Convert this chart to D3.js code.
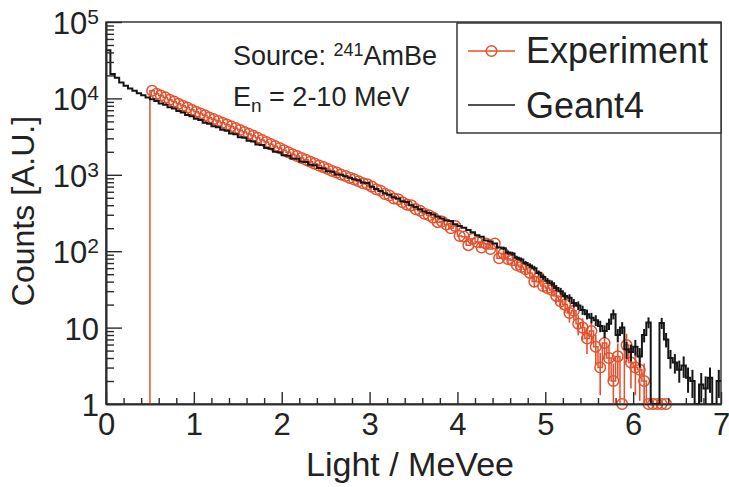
<!DOCTYPE html>
<html>
<head>
<meta charset="utf-8">
<script src="https://cdn.jsdelivr.net/npm/d3@7"></script>
<style>
  body { margin: 0; background: #fff; }
  svg { display: block; }
  text { font-family: "Liberation Sans", Arial, Helvetica, sans-serif; fill: #222; }
</style>
</head>
<body>
<svg id="chart" width="729" height="487"></svg>
<script>
// Light-output spectra, bins of 0.05 MeVee (counts per bin, arbitrary units)
const binWidth = 0.05;

// Geant4 simulation, bins starting at 0 MeVee
const geant4Start = 0;
const geant4Counts = [
  42700, 20900, 18600, 16200, 14600, 13500, 12600, 11700, 11000, 10300,
  9720, 9250, 8600, 8240, 7650, 7350, 6820, 6560, 6080, 5850,
  5420, 5230, 4810, 4650, 4320, 4180, 3880, 3760, 3480, 3390,
  3110, 3050, 2790, 2730, 2500, 2450, 2250, 2200, 2010, 1980,
  1800, 1780, 1640, 1620, 1490, 1470, 1350, 1330, 1230, 1210,
  1110, 1100, 1010, 1000, 960, 915, 875, 850, 790, 780,
  700, 650, 615, 575, 548, 510, 490, 452, 440, 400,
  380, 355, 332, 316, 302, 285, 268, 252, 248, 225,
  214, 202, 190, 177, 162, 155, 138, 134, 126, 112,
  109, 96, 93, 82, 78, 70, 65, 60, 52, 46,
  41, 38, 33, 30, 26, 24.5, 21, 19.5, 17, 15,
  13.5, 12.5, 10.5, 9, 11.2, 15, 8, 10, 5.2, 4.8,
  5.6, 4.2, 8, 11.7, 0, 0, 11.5, 7, 4, 3.5,
  2.8, 3.2, 2.2, 2, 0, 1.8, 1.6, 2.2, 0, 2
];
// statistical errors of the Geant4 tail, bins from 4.5 MeVee on
const geant4ErrStart = 4.5;
const geant4TailErr = [
  6, 5.5, 5.4, 5, 4.9, 4.6, 4.5, 4.3, 4, 3.8,
  3.6, 3.4, 3.2, 3.1, 2.9, 2.8, 2.6, 2.5, 2.3, 2.2,
  2.1, 2, 1.8, 1.7, 1.9, 2.2, 1.6, 1.8, 1.3, 1.2,
  1.3, 1.2, 1.6, 1.9, 0, 0, 1.9, 1.5, 1.1, 1.0,
  0.9, 1.0, 0.8, 0.8, 0, 0.75, 0.7, 0.8, 0, 0.8
];

// Measured 241AmBe spectrum above the 0.5 MeVee threshold
const experimentStart = 0.5;
const experimentCounts = [
  12600, 11500, 10900, 10300, 9600, 9100, 8500, 8000, 7600, 7100,
  6700, 6350, 6000, 5600, 5350, 5050, 4800, 4550, 4300, 4080,
  3850, 3640, 3430, 3240, 3060, 2850, 2690, 2520, 2370, 2240,
  2090, 1970, 1860, 1760, 1660, 1570, 1480, 1400, 1320, 1260,
  1190, 1120, 1070, 1010, 966, 912, 871, 822, 776, 750,
  700, 646, 617, 562, 537, 490, 479, 437, 407, 398,
  355, 339, 309, 295, 275, 240, 245, 224, 200, 214,
  158, 155, 120, 145, 132, 112, 126, 107, 126, 81,
  93, 79, 76, 66, 62, 58, 52, 40, 46, 35,
  33, 31, 26, 22, 20, 15.5, 16.6, 11.2, 10, 7.2,
  9, 5.6, 3, 6.3, 4, 2, 4.2, 0, 5.9, 3.5,
  3, 2.8, 2, 0, 0, 0, 0, 0
];
// statistical errors of the measured tail, bins from 4.5 MeVee on
const experimentErrStart = 4.5;
const experimentTailErr = [
  9.6, 8.9, 8.7, 8.1, 7.9, 7.6, 7.2, 6.3, 6.8, 5.9,
  5.7, 5.6, 5.1, 4.7, 4.5, 3.9, 4.1, 3.3, 3.2, 2.7,
  3.0, 2.4, 1.7, 2.5, 2.0, 1.4, 2.0, 0, 2.4, 1.9,
  1.7, 1.7, 1.4, 0, 0, 0, 0, 0
];

const xTicks = [0, 1, 2, 3, 4, 5, 6, 7];
const xMinorTicks = d3.range(1, 35).map(i => i / 5).filter(v => !Number.isInteger(v));
const yTicks = [1, 10, 100, 1000, 10000, 100000];
const yTickLabels = [["1", ""], ["10", ""], ["10", "2"], ["10", "3"], ["10", "4"], ["10", "5"]];
const yMinorTicks = [];
for (let e = 0; e < 5; e++) for (let d = 2; d <= 9; d++) yMinorTicks.push(d * Math.pow(10, e));

const seriesNames = ["Experiment", "Geant4"];
const sourceLabel = ["Source: ", "241", "AmBe"];
const energyLabel = ["E", "n", " = 2-10 MeV"];
const xTitle = "Light / MeVee";
const yTitle = "Counts [A.U.]";

const RED = "#e2522e";
const BLACK = "#161616";
const AXIS = "#2a2a2a";

const plot = { left: 106, right: 721, top: 22, bottom: 404 };
const svg = d3.select("#chart");

const x = d3.scaleLinear().domain([0, 7]).range([plot.left, plot.right]);
const y = d3.scaleLog().domain([1, 1e5]).range([plot.bottom, plot.top]);
const yFloor = v => (v > 1 ? y(v) : y(1));

function toBins(start, counts, errStart, errs) {
  const off = Math.round((errStart - start) / binWidth);
  return counts.map((v, i) => {
    const lo = +(start + i * binWidth).toFixed(4);
    return { lo, hi: +(lo + binWidth).toFixed(4), c: +(lo + binWidth / 2).toFixed(4), v,
             err: i >= off ? (errs[i - off] || 0) : 0 };
  });
}
const geant4 = toBins(geant4Start, geant4Counts, geant4ErrStart, geant4TailErr);
const experiment = toBins(experimentStart, experimentCounts, experimentErrStart, experimentTailErr);

// step outline of a histogram, rising from the floor at its first edge
const stepLine = d3.line().curve(d3.curveStepAfter).x(d => x(d[0])).y(d => yFloor(d[1]));
function stepPoints(bins) {
  const pts = [[bins[0].lo, 0]];
  bins.forEach(b => pts.push([b.lo, b.v]));
  const last = bins[bins.length - 1];
  pts.push([last.hi, last.v]);
  return pts;
}

svg.append("defs").append("clipPath").attr("id", "plotClip")
  .append("rect").attr("x", plot.left).attr("y", plot.top)
  .attr("width", plot.right - plot.left).attr("height", plot.bottom - plot.top);

// frame
svg.append("rect")
  .attr("x", plot.left).attr("y", plot.top)
  .attr("width", plot.right - plot.left).attr("height", plot.bottom - plot.top)
  .attr("fill", "none").attr("stroke", AXIS).attr("stroke-width", 1.4);

// experiment: outline, error bars, open circles
const gExp = svg.append("g");
gExp.append("path").attr("d", stepLine(stepPoints(experiment)))
  .attr("fill", "none").attr("stroke", RED).attr("stroke-width", 1.5);
gExp.selectAll("line.err").data(experiment.filter(b => b.err > 0)).join("line")
  .attr("class", "err")
  .attr("x1", b => x(b.c)).attr("x2", b => x(b.c))
  .attr("y1", b => yFloor(b.v - b.err)).attr("y2", b => yFloor(b.v + b.err))
  .attr("stroke", RED).attr("stroke-width", 1.6);
gExp.selectAll("circle").data(experiment).join("circle")
  .attr("cx", b => x(b.c)).attr("cy", b => yFloor(b.v)).attr("r", 5.3)
  .attr("fill", "none").attr("stroke", RED).attr("stroke-width", 1.5);

// Geant4: outline with error bars
const gSim = svg.append("g").attr("clip-path", "url(#plotClip)");
gSim.append("path").attr("d", stepLine(stepPoints(geant4)))
  .attr("fill", "none").attr("stroke", BLACK).attr("stroke-width", 2);
gSim.selectAll("line").data(geant4.filter(b => b.err > 0)).join("line")
  .attr("x1", b => x(b.c)).attr("x2", b => x(b.c))
  .attr("y1", b => yFloor(b.v - b.err)).attr("y2", b => yFloor(b.v + b.err))
  .attr("stroke", BLACK).attr("stroke-width", 2);

// axes with inward ticks
function styleAxis(g) {
  g.selectAll("path.domain").attr("stroke", AXIS).attr("stroke-width", 1.6);
  g.selectAll(".tick line").attr("stroke", AXIS).attr("stroke-width", 1.4);
}
svg.append("g").attr("transform", `translate(0,${plot.bottom})`)
  .call(d3.axisBottom(x).tickValues(xMinorTicks).tickSize(-6).tickSizeOuter(0).tickFormat(""))
  .call(styleAxis);
const gx = svg.append("g").attr("transform", `translate(0,${plot.bottom})`)
  .call(d3.axisBottom(x).tickValues(xTicks).tickSize(-12).tickSizeOuter(0).tickPadding(9).tickFormat(d3.format("d")))
  .call(styleAxis);
gx.selectAll("text").attr("font-size", 31).attr("fill", "#222");

svg.append("g").attr("transform", `translate(${plot.left},0)`)
  .call(d3.axisLeft(y).tickValues(yMinorTicks).tickSize(-8).tickSizeOuter(0).tickFormat(""))
  .call(styleAxis);
svg.append("g").attr("transform", `translate(${plot.left},0)`)
  .call(d3.axisLeft(y).tickValues(yTicks).tickSize(-16).tickSizeOuter(0).tickFormat(""))
  .call(styleAxis);

const yl = svg.append("g").selectAll("text").data(yTicks).join("text")
  .attr("x", 99).attr("y", v => y(v) + 12)
  .attr("text-anchor", "end").attr("font-size", 31);
yl.each(function (v, i) {
  const t = d3.select(this);
  t.append("tspan").text(yTickLabels[i][0]);
  if (yTickLabels[i][1]) t.append("tspan").attr("dy", -10).attr("font-size", 21).text(yTickLabels[i][1]);
});

// axis titles
svg.append("text").attr("x", 410).attr("y", 476).attr("text-anchor", "middle")
  .attr("font-size", 34).text(xTitle);
svg.append("text").attr("transform", "translate(34,211) rotate(-90)")
  .attr("text-anchor", "middle").attr("font-size", 32).text(yTitle);

// source annotation
const src = svg.append("text").attr("x", 233).attr("y", 65).attr("font-size", 27);
src.append("tspan").text(sourceLabel[0]);
src.append("tspan").attr("dy", -9).attr("font-size", 18).text(sourceLabel[1]);
src.append("tspan").attr("dy", 9).text(sourceLabel[2]);
const en = svg.append("text").attr("x", 233).attr("y", 106).attr("font-size", 27);
en.append("tspan").text(energyLabel[0]);
en.append("tspan").attr("dy", 6).attr("font-size", 19).text(energyLabel[1]);
en.append("tspan").attr("dy", -6).text(energyLabel[2]);

// legend
const lg = svg.append("g");
lg.append("rect").attr("x", 457).attr("y", 23).attr("width", plot.right - 457).attr("height", 110)
  .attr("fill", "#fff").attr("stroke", AXIS).attr("stroke-width", 1.4);
lg.append("line").attr("x1", 468).attr("x2", 515).attr("y1", 51).attr("y2", 51)
  .attr("stroke", RED).attr("stroke-width", 1.6);
lg.append("circle").attr("cx", 491.5).attr("cy", 51).attr("r", 5.3)
  .attr("fill", "none").attr("stroke", RED).attr("stroke-width", 1.5);
lg.append("line").attr("x1", 468).attr("x2", 515).attr("y1", 105).attr("y2", 105)
  .attr("stroke", BLACK).attr("stroke-width", 1.6);
lg.append("text").attr("x", 526).attr("y", 63).attr("font-size", 36).text(seriesNames[0]);
lg.append("text").attr("x", 526).attr("y", 118).attr("font-size", 36).text(seriesNames[1]);
</script>
</body>
</html>
